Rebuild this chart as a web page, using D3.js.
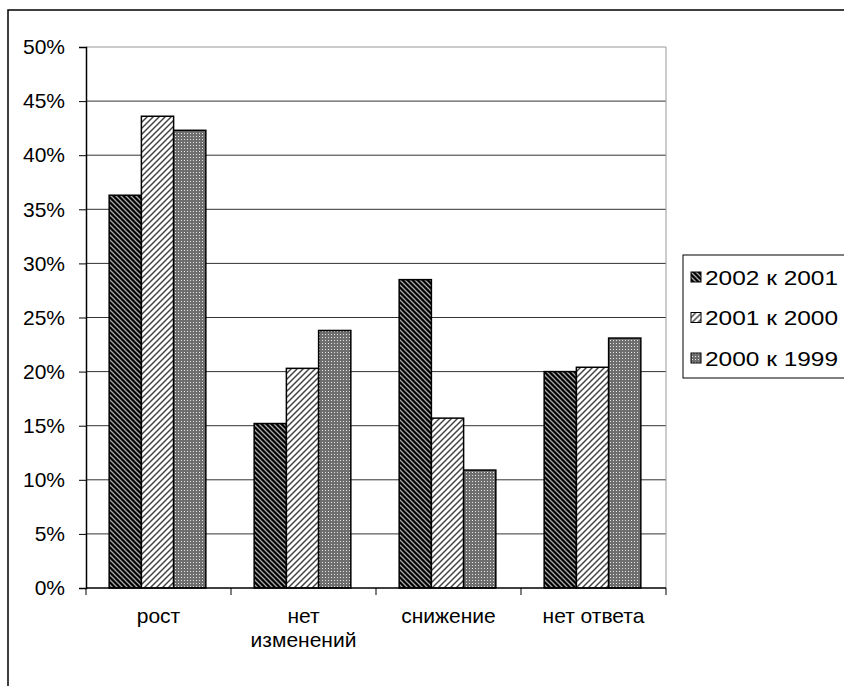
<!DOCTYPE html>
<html><head><meta charset="utf-8">
<script src="https://cdn.jsdelivr.net/npm/d3@7"></script>
<style>html,body{margin:0;padding:0;background:#fff;}svg{display:block;font-family:"Liberation Sans",Arial,sans-serif;}</style>
</head><body>
<script>
const categories = [["рост"], ["нет", "изменений"], ["снижение"], ["нет ответа"]];
const seriesNames = ["2002 к 2001", "2001 к 2000", "2000 к 1999"];
const s2002 = [36.3, 15.2, 28.5, 20.0];
const s2001 = [43.6, 20.3, 15.7, 20.4];
const s2000 = [42.3, 23.8, 10.9, 23.1];
const yTicks = [0, 5, 10, 15, 20, 25, 30, 35, 40, 45, 50];

const W = 844, H = 686;
const svg = d3.select("body").append("svg").attr("width", W).attr("height", H);
const defs = svg.append("defs");

// patterns
const p1 = defs.append("pattern").attr("id", "p0").attr("patternUnits", "userSpaceOnUse")
  .attr("width", 5).attr("height", 5);
p1.append("rect").attr("width", 5).attr("height", 5).attr("fill", "#000");
p1.append("path").attr("d", "M-1,-1 L6,6 M-1,4 L1,6 M4,-1 L6,1").attr("stroke", "#aaa").attr("stroke-width", 1.3);

const p2 = defs.append("pattern").attr("id", "p1").attr("patternUnits", "userSpaceOnUse")
  .attr("width", 6).attr("height", 6);
p2.append("rect").attr("width", 6).attr("height", 6).attr("fill", "#fff");
p2.append("path").attr("d", "M-1,7 L7,-1 M-1,1 L1,-1 M5,7 L7,5").attr("stroke", "#444").attr("stroke-width", 1.5);

const p3 = defs.append("pattern").attr("id", "p2").attr("patternUnits", "userSpaceOnUse")
  .attr("width", 3).attr("height", 3);
p3.append("rect").attr("width", 3).attr("height", 3).attr("fill", "#6e6e6e");
p3.append("rect").attr("x", 1).attr("y", 1).attr("width", 1).attr("height", 1).attr("fill", "#e6e6e6");

// outer frame
svg.append("rect").attr("x", 8).attr("y", 10).attr("width", 900).attr("height", 800)
  .attr("fill", "none").attr("stroke", "#000").attr("stroke-width", 1.5);

const x0 = 86, x1 = 666, yTop = 47, yBot = 588;
const y = d3.scaleLinear().domain([0, 50]).range([yBot, yTop]);
const xc = d3.scaleBand().domain(d3.range(categories.length)).range([x0, x1]).paddingInner(0).paddingOuter(0);
const groupPad = 1.5 / 4.5;
const xs = d3.scaleBand().domain(d3.range(3)).range([xc.bandwidth() * groupPad / 2 - 1, xc.bandwidth() * (1 - groupPad / 2) - 1]);

// gridlines
svg.append("g").selectAll("line").data(yTicks.filter(d => d > 0)).join("line")
  .attr("x1", x0).attr("x2", x1).attr("y1", d => y(d)).attr("y2", d => y(d))
  .attr("stroke", d => d === 50 ? "#999" : "#333").attr("stroke-width", 1);
// right plot border
svg.append("line").attr("x1", x1).attr("x2", x1).attr("y1", yTop).attr("y2", yBot)
  .attr("stroke", "#999").attr("stroke-width", 1);

// bars
const series = [s2002, s2001, s2000];
series.forEach((vals, si) => {
  svg.append("g").selectAll("rect").data(vals).join("rect")
    .attr("x", (d, i) => xc(i) + xs(si))
    .attr("width", xs.bandwidth())
    .attr("y", d => y(d))
    .attr("height", d => yBot - y(d))
    .attr("fill", `url(#p${si})`)
    .attr("stroke", "#000").attr("stroke-width", 1.5);
});

// y axis
const yAxis = d3.axisLeft(y).tickValues(yTicks).tickFormat(d => d + "%").tickSize(7).tickPadding(14);
const ga = svg.append("g").attr("transform", `translate(${x0},0)`).call(yAxis);
ga.select(".domain").attr("stroke", "#000").attr("stroke-width", 1.5);
ga.selectAll(".tick line").attr("stroke", "#000");
ga.selectAll("text").attr("font-size", 21).attr("fill", "#000").attr("font-family", "Liberation Sans, Arial, sans-serif");

// x axis
svg.append("line").attr("x1", x0).attr("x2", x1).attr("y1", yBot).attr("y2", yBot)
  .attr("stroke", "#000").attr("stroke-width", 1.5);
svg.append("g").selectAll("line").data(d3.range(categories.length + 1)).join("line")
  .attr("x1", i => x0 + i * xc.bandwidth()).attr("x2", i => x0 + i * xc.bandwidth())
  .attr("y1", yBot).attr("y2", yBot + 7).attr("stroke", "#000");
const lab = svg.append("g").selectAll("text").data(categories).join("text")
  .attr("x", (d, i) => xc(i) + xc.bandwidth() / 2)
  .attr("y", 623).attr("text-anchor", "middle").attr("font-size", 21);
lab.selectAll("tspan").data(d => d).join("tspan")
  .attr("x", function () { return d3.select(this.parentNode).attr("x"); })
  .attr("dy", (d, i) => i === 0 ? 0 : 24).text(d => d);

// legend
svg.append("rect").attr("x", 683).attr("y", 255).attr("width", 200).attr("height", 123)
  .attr("fill", "#fff").attr("stroke", "#000").attr("stroke-width", 1);
const lg = svg.append("g").selectAll("g").data(seriesNames).join("g")
  .attr("transform", (d, i) => `translate(691,${277 + i * 40.5})`);
lg.append("rect").attr("x", 0).attr("y", -5).attr("width", 10).attr("height", 10)
  .attr("fill", (d, i) => `url(#p${i})`).attr("stroke", "#000").attr("stroke-width", 1);
lg.append("text").attr("x", 14).attr("y", 7.5).attr("font-size", 20)
  .attr("textLength", 133).attr("lengthAdjust", "spacingAndGlyphs").text(d => d);
</script>
</body></html>
